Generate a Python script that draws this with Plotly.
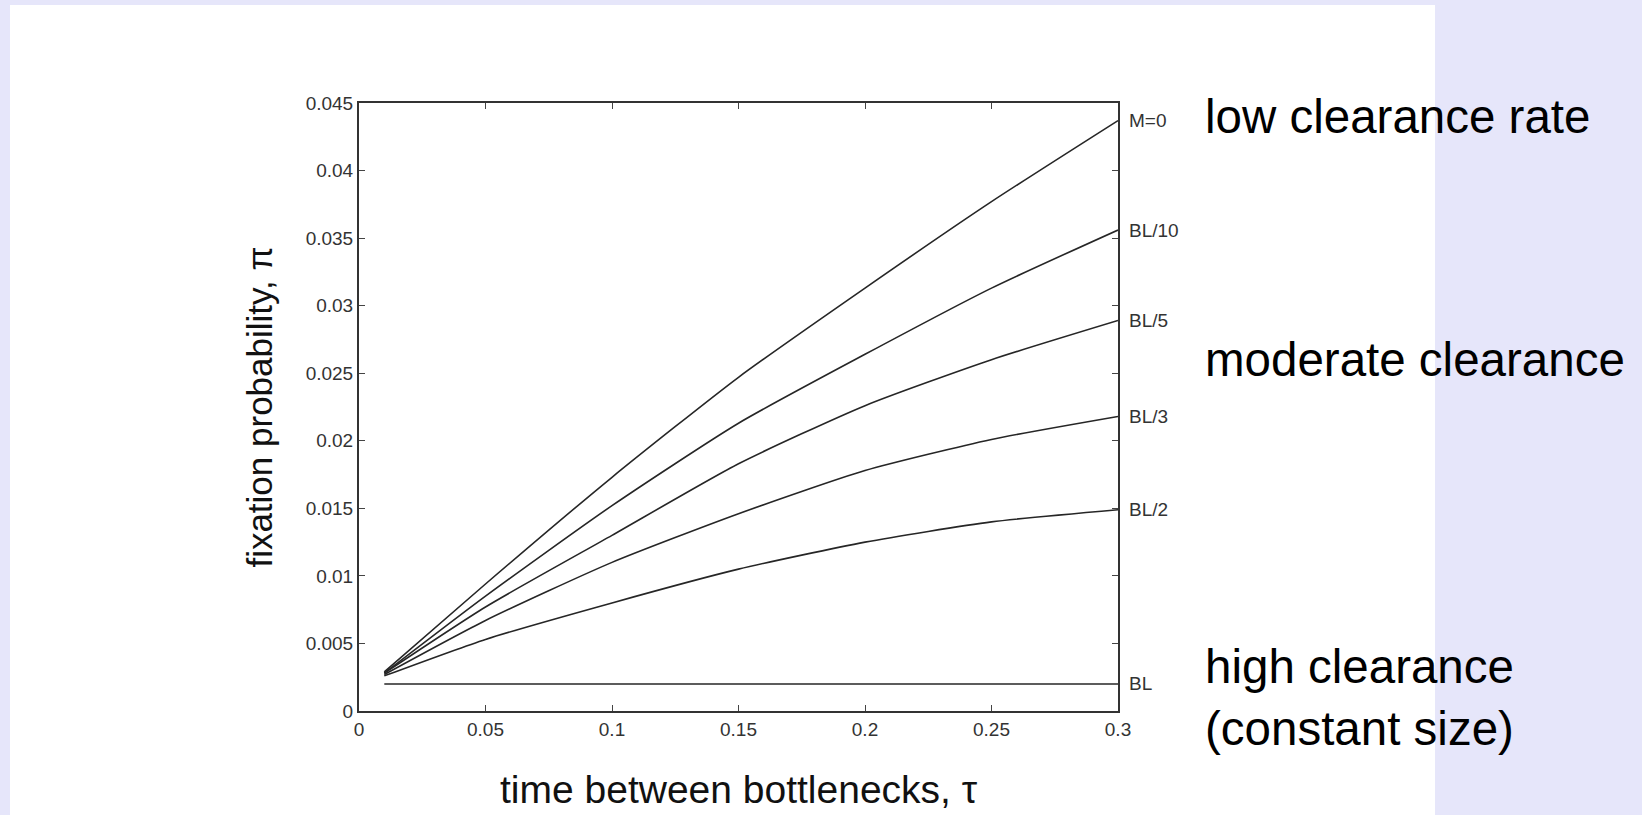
import plotly.graph_objects as go

# Fixation probability vs. time between bottlenecks, one curve per clearance rate
tau = [0.01, 0.05, 0.10, 0.15, 0.20, 0.25, 0.30]
pi_m0 = [0.0029, 0.0094, 0.0173, 0.0247, 0.0313, 0.0377, 0.0437]
pi_bl10 = [0.0028, 0.0085, 0.0152, 0.0213, 0.0264, 0.0313, 0.0356]
pi_bl5 = [0.0028, 0.0077, 0.0130, 0.0183, 0.0226, 0.0260, 0.0289]
pi_bl3 = [0.0027, 0.0067, 0.0110, 0.0146, 0.0178, 0.0201, 0.0218]
pi_bl2 = [0.0026, 0.0053, 0.0080, 0.0105, 0.0125, 0.0140, 0.0149]
pi_bl = [0.0020, 0.0020, 0.0020, 0.0020, 0.0020, 0.0020, 0.0020]

curve_names = ["M=0", "BL/10", "BL/5", "BL/3", "BL/2", "BL"]
curves = [pi_m0, pi_bl10, pi_bl5, pi_bl3, pi_bl2, pi_bl]

x_tick_vals = [0, 0.05, 0.1, 0.15, 0.2, 0.25, 0.3]
x_tick_text = ["0", "0.05", "0.1", "0.15", "0.2", "0.25", "0.3"]
y_tick_vals = [0, 0.005, 0.01, 0.015, 0.02, 0.025, 0.03, 0.035, 0.04, 0.045]
y_tick_text = ["0", "0.005", "0.01", "0.015", "0.02", "0.025", "0.03", "0.035", "0.04", "0.045"]

x_title = "time between bottlenecks, \u03c4"
y_title = "fixation probability, \u03c0"

regime_text = ["low clearance rate", "moderate clearance", "high clearance<br>(constant size)"]
regime_level = [0.0440, 0.0260, 0.0010]

FONT = "Liberation Sans, Arial, Helvetica, sans-serif"
W, H = 1642, 815
L, R, T, B = 359, 1642 - 1118, 103, 815 - 711
pw, ph = W - L - R, H - T - B

fig = go.Figure()
for name, ys in zip(curve_names, curves):
    fig.add_trace(go.Scatter(
        x=tau, y=ys, mode="lines", name=name,
        line=dict(color="#262626", width=1.6, shape="spline", smoothing=0.6),
        showlegend=False, hoverinfo="skip",
    ))

annotations = []
# curve labels at the right-hand end of each curve
for name, ys in zip(curve_names, curves):
    annotations.append(dict(
        x=tau[-1], y=ys[-1], xref="x", yref="y", text=name, showarrow=False,
        xanchor="left", yanchor="middle", xshift=9,
        font=dict(family=FONT, size=19, color="#333333"),
    ))
# regime descriptions
for txt, lvl in zip(regime_text, regime_level):
    annotations.append(dict(
        x=(1203 - L) / pw, y=lvl, xref="paper", yref="y", text=txt, showarrow=False,
        xanchor="left", yanchor="middle", align="left",
        font=dict(family=FONT, size=47.5, color="#000000"),
    ))
# x-axis title placed below the tick labels
annotations.append(dict(
    x=0.5, y=(711 - 789) / ph, xref="paper", yref="paper", text=x_title,
    showarrow=False, xanchor="center", yanchor="middle",
    font=dict(family=FONT, size=39, color="#111111"),
))

axis_common = dict(
    showline=True, linecolor="#333333", linewidth=2, mirror="ticks",
    ticks="inside", ticklen=6, tickwidth=1.2, tickcolor="#444444",
    showgrid=False, zeroline=False, automargin=False,
    tickfont=dict(family=FONT, size=19, color="#333333"),
)

fig.update_layout(
    width=W, height=H,
    margin=dict(l=L, r=R, t=T, b=B),
    paper_bgcolor="#E6E6FA",
    plot_bgcolor="#FFFFFF",
    shapes=[dict(
        type="rect", xref="paper", yref="paper", layer="below",
        x0=(10 - L) / pw, x1=(1435 - L) / pw,
        y0=(711 - 815) / ph, y1=(711 - 5) / ph,
        fillcolor="#FFFFFF", line=dict(width=0),
    )],
    xaxis=dict(
        range=[0, 0.3], tickvals=x_tick_vals, ticktext=x_tick_text,
        **axis_common,
    ),
    yaxis=dict(
        range=[0, 0.045], tickvals=y_tick_vals, ticktext=y_tick_text,
        title=dict(text=y_title, standoff=22,
                   font=dict(family=FONT, size=35, color="#111111")),
        **axis_common,
    ),
    annotations=annotations,
)

fig.write_html("out.html")
